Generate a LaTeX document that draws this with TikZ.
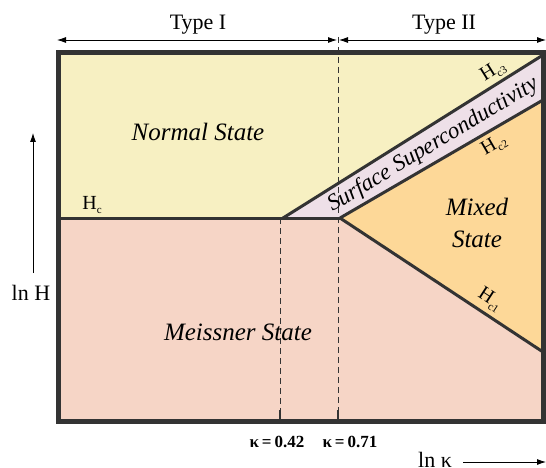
\documentclass[tikz,border=0pt]{standalone}
\usepackage{fontspec}
\setmainfont{Liberation Serif}
\usetikzlibrary{arrows.meta}
\definecolor{normalc}{HTML}{F7F0C2}
\definecolor{meisc}{HTML}{F6D5C6}
\definecolor{mixc}{HTML}{FDD898}
\definecolor{surfc}{HTML}{EEE0E8}
\definecolor{edgec}{HTML}{333333}
\newcommand\Hsub[1]{H\raisebox{-0.45ex}{\fontsize{11}{11}\selectfont #1}}
\tikzset{
  phase/.style={edgec, line width=3pt, line join=round},
  guide/.style={black!80, line width=0.9pt, dash pattern=on 6pt off 4pt},
  statelbl/.style={font=\fontsize{25}{32}\selectfont\itshape, align=center, inner sep=0pt},
  hlbl/.style={font=\fontsize{20}{22}\selectfont, inner sep=0pt},
  kaplbl/.style={font=\fontsize{17}{19}\selectfont\bfseries, inner sep=0pt},
  axlbl/.style={font=\fontsize{22}{24}\selectfont, inner sep=0pt},
  typelbl/.style={font=\fontsize{22}{24}\selectfont, inner sep=0pt},
  arr/.style={-{Latex[length=9pt,width=6pt]}, line width=0.8pt},
  darr/.style={{Latex[length=9pt,width=6pt]}-{Latex[length=9pt,width=6pt]}, line width=0.8pt}
}
\begin{document}
\begin{tikzpicture}[x=1pt,y=-1pt]
\useasboundingbox (0,0) rectangle (546,468);
% key points
\coordinate (TL) at (58,53);
\coordinate (TR) at (543,53);
\coordinate (BL) at (58,421);
\coordinate (BR) at (543,421);
\coordinate (HcL) at (58,218);
\coordinate (P42) at (283,218);
\coordinate (P71) at (340,218);
\coordinate (H3R) at (543,55);
\coordinate (H2R) at (543,100);
\coordinate (H1R) at (543,352);
% regions
\fill[normalc] (TL) -- (TR) -- (H3R) -- (P42) -- (HcL) -- cycle;
\fill[surfc] (P42) -- (H3R) -- (H2R) -- (P71) -- cycle;
\fill[mixc] (P71) -- (H2R) -- (H1R) -- cycle;
\fill[meisc] (HcL) -- (P71) -- (H1R) -- (BR) -- (BL) -- cycle;
% dashed guides
\coordinate (K42top) at (280,218);
\coordinate (K42bot) at (280,421);
\coordinate (K71top) at (338,37);
\coordinate (K71bot) at (338,421);
\draw[guide] (K42top) -- (K42bot);
\draw[guide] (K71top) -- (K71bot);
\draw[edgec, line width=2pt] (280,410) -- (K42bot);
\draw[edgec, line width=2pt] (338,410) -- (K71bot);
% phase lines
\draw[phase] (HcL) -- (P71);
\draw[phase] (P42) -- (H3R);
\draw[phase] (P71) -- (H2R);
\draw[phase] (P71) -- (H1R);
% frame
\draw[edgec, line width=5pt] (TL) rectangle (BR);
% type arrows
\coordinate (A0) at (57,40);
\coordinate (A1) at (337,40);
\coordinate (A2) at (339,40);
\coordinate (A3) at (546,40);
\draw[darr] (A0) -- (A1);
\draw[darr] (A2) -- (A3);
\node[typelbl, anchor=base] (t1) at (198,30) {Type I};
\node[typelbl, anchor=base] (t2) at (444,30) {Type II};
% labels
\node[statelbl, anchor=base] (ns) at (198,140) {Normal State};
\node[statelbl, anchor=base] (ms) at (238,340) {Meissner State};
\node[statelbl, anchor=base] (mx) at (477,215) {Mixed};
\node[statelbl, anchor=base] (mx2) at (477,247) {State};
\node[font=\fontsize{23}{25}\selectfont\itshape, rotate=31, inner sep=0pt] (ss) at (433,145) {Surface Superconductivity};
\node[hlbl, anchor=base] (hc) at (92,209) {\Hsub{c}};
\node[hlbl, rotate=32] (hc3) at (493,71) {\Hsub{c3}};
\node[hlbl, rotate=30] (hc2) at (494,145) {\Hsub{c2}};
\node[hlbl, rotate=-33] (hc1) at (490,300) {\Hsub{c1}};
% axes
\coordinate (lnHb) at (33,273);
\coordinate (lnHt) at (33,133);
\draw[arr] (lnHb) -- (lnHt);
\node[axlbl, anchor=base] (lnH) at (31,300) {ln H};
\node[kaplbl, anchor=base] (k42) at (277,447) {κ\,=\,0.42};
\node[kaplbl, anchor=base] (k71) at (350,447) {κ\,=\,0.71};
\node[axlbl, anchor=base] (lnk) at (435,467) {ln κ};
\coordinate (lnkS) at (463,462);
\coordinate (lnkE) at (546,462);
\draw[arr] (lnkS) -- (lnkE);
\end{tikzpicture}
\end{document}
